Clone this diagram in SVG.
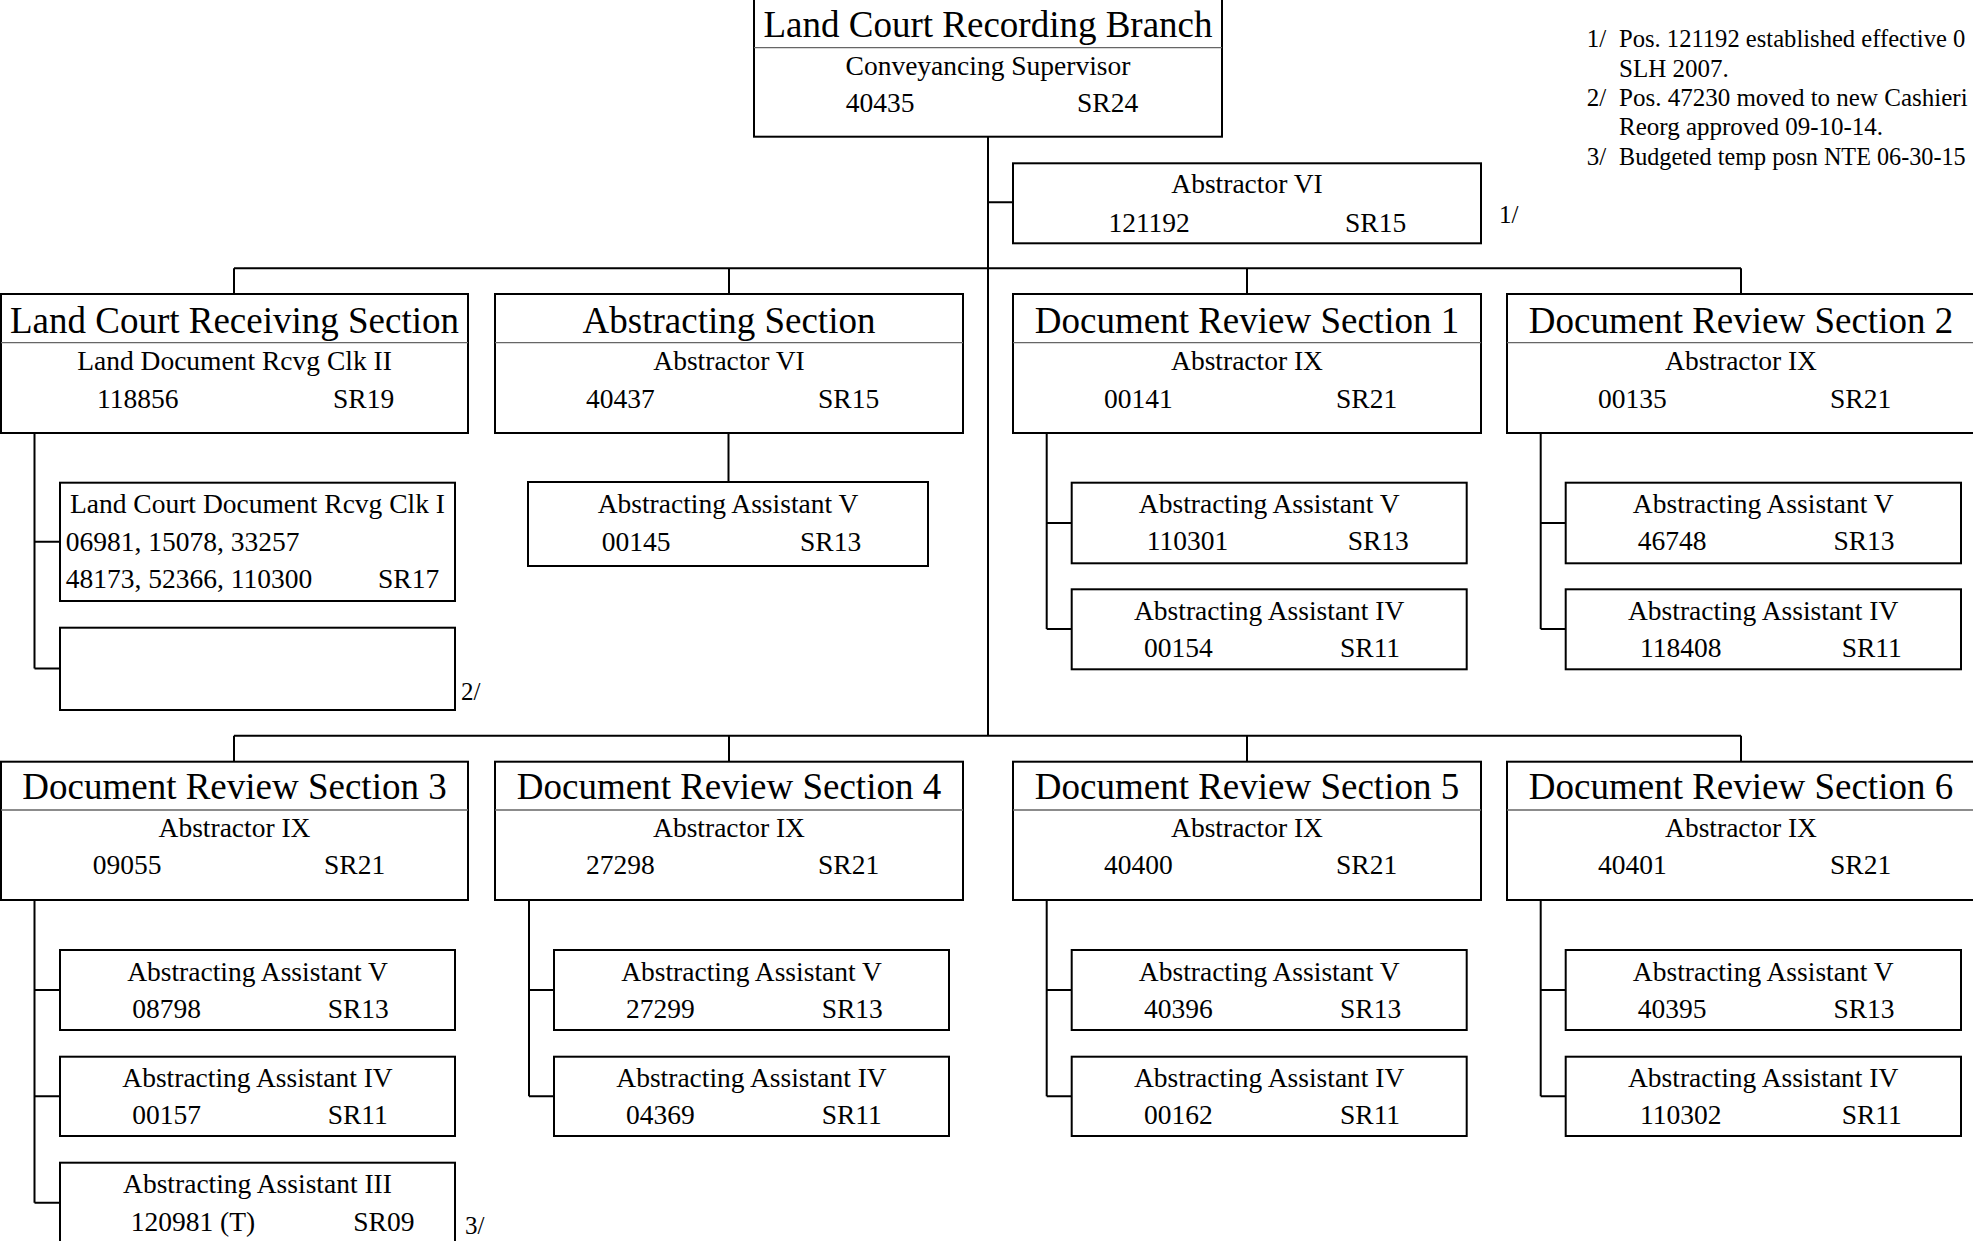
<svg xmlns="http://www.w3.org/2000/svg" width="1973" height="1241" viewBox="0 0 1973 1241">
<style>
text{font-family:"Liberation Serif","Times New Roman",serif;fill:#000}
.t{font-size:37px;text-anchor:middle}
.m{font-size:27.5px;text-anchor:middle}
.s{font-size:27.5px}
.n{font-size:25px}
.box{fill:#fff;stroke:#000;stroke-width:2}
.sep{stroke:#666;stroke-width:1.3}
.c{fill:none;stroke:#000;stroke-width:2}
</style>
<rect width="1973" height="1241" fill="#fff"/>
<g id="connectors">
<path class="c" d="M988 136V736M988 202.3H1013"/>
<path class="c" d="M234 268.3H1741M234 268.3V294M729 268.3V294M1247 268.3V294M1741 268.3V294"/>
<path class="c" d="M234 735.7H1741M234 735.7V762M729 735.7V762M1247 735.7V762M1741 735.7V762"/>
<path class="c" d="M34.5 433V668.5M34.5 541.8H60M34.5 668.5H60"/>
<path class="c" d="M728.5 433V482"/>
<path class="c" d="M1046.7 433V629M1046.7 523H1071.7M1046.7 629H1071.7"/>
<path class="c" d="M1540.7 433V629M1540.7 523H1565.7M1540.7 629H1565.7"/>
<path class="c" d="M34.5 900V1202.7M34.5 990H60M34.5 1096.3H60M34.5 1202.7H60"/>
<path class="c" d="M529 900V1096.3M529 990H554M529 1096.3H554"/>
<path class="c" d="M1046.7 900V1096.3M1046.7 990H1071.7M1046.7 1096.3H1071.7"/>
<path class="c" d="M1540.7 900V1096.3M1540.7 990H1565.7M1540.7 1096.3H1565.7"/>
</g>
<g id="branch" transform="translate(754,-1.5)">
<rect class="box" width="468" height="138.2"/>
<line class="sep" x1="0" y1="49.2" x2="468" y2="49.2"/>
<text class="t" x="234" y="38.5">Land Court Recording Branch</text>
<text class="m" x="234" y="76.5">Conveyancing Supervisor</text>
<text class="s" x="91.7" y="113.2">40435</text>
<text class="s" x="323" y="113.2">SR24</text>
</g>
<g id="abstractor-vi-121192" transform="translate(1013,163.3)">
<rect class="box" width="468" height="80"/>
<text class="m" x="234" y="30">Abstractor VI</text>
<text class="s" x="95.4" y="68.4">121192</text>
<text class="s" x="332" y="68.4">SR15</text>
</g>
<text class="n" x="1499" y="223">1/</text>
<g id="notes">
<text class="n" x="1586.7" y="47">1/</text>
<text class="n" x="1619" y="47" style="font-size:24.6px">Pos. 121192 established effective 0</text>
<text class="n" x="1619" y="77">SLH 2007.</text>
<text class="n" x="1586.7" y="106">2/</text>
<text class="n" x="1619" y="106">Pos. 47230 moved to new Cashieri</text>
<text class="n" x="1619" y="135">Reorg approved 09-10-14.</text>
<text class="n" x="1586.7" y="165">3/</text>
<text class="n" x="1619" y="165" style="font-size:24.2px">Budgeted temp posn NTE 06-30-15</text>
</g>
<g id="receiving-section" transform="translate(1,294)">
<rect class="box" width="467" height="139"/>
<line class="sep" x1="0" y1="48.7" x2="467" y2="48.7"/>
<text class="t" x="233.5" y="38.7">Land Court Receiving Section</text>
<text class="m" x="233.5" y="76">Land Document Rcvg Clk II</text>
<text class="s" x="96" y="113.7">118856</text>
<text class="s" x="332" y="113.7">SR19</text>
</g>
<g id="abstracting-section" transform="translate(495,294)">
<rect class="box" width="468" height="139"/>
<line class="sep" x1="0" y1="48.7" x2="468" y2="48.7"/>
<text class="t" x="234" y="38.7">Abstracting Section</text>
<text class="m" x="234" y="76">Abstractor VI</text>
<text class="s" x="91" y="113.7">40437</text>
<text class="s" x="323" y="113.7">SR15</text>
</g>
<g id="drs1" transform="translate(1013,294)">
<rect class="box" width="468" height="139"/>
<line class="sep" x1="0" y1="48.7" x2="468" y2="48.7"/>
<text class="t" x="234" y="38.7">Document Review Section 1</text>
<text class="m" x="234" y="76">Abstractor IX</text>
<text class="s" x="91" y="113.7">00141</text>
<text class="s" x="323" y="113.7">SR21</text>
</g>
<g id="drs2" transform="translate(1507,294)">
<rect class="box" width="468" height="139"/>
<line class="sep" x1="0" y1="48.7" x2="468" y2="48.7"/>
<text class="t" x="234" y="38.7">Document Review Section 2</text>
<text class="m" x="234" y="76">Abstractor IX</text>
<text class="s" x="91" y="113.7">00135</text>
<text class="s" x="323" y="113.7">SR21</text>
</g>
<g id="rcvg-clk-i" transform="translate(60,482.7)">
<rect class="box" width="395" height="118.3"/>
<text class="m" x="197.5" y="30.5">Land Court Document Rcvg Clk I</text>
<text class="s" x="5.7" y="68">06981, 15078, 33257</text>
<text class="s" x="5.7" y="105.3">48173, 52366, 110300</text>
<text class="s" x="318" y="105.3">SR17</text>
</g>
<g id="empty-position" transform="translate(60,627.7)">
<rect class="box" width="395" height="82.3"/>
</g>
<text class="n" x="461" y="700">2/</text>
<g id="aa-v-00145" transform="translate(528,482)">
<rect class="box" width="400" height="84"/>
<text class="m" x="200" y="31.3">Abstracting Assistant V</text>
<text class="s" x="73.7" y="68.7">00145</text>
<text class="s" x="272" y="68.7">SR13</text>
</g>
<g id="aa-v-110301" transform="translate(1071.7,482.7)">
<rect class="box" width="395" height="80.6"/>
<text class="m" x="197.5" y="30.5">Abstracting Assistant V</text>
<text class="s" x="75" y="67.5">110301</text>
<text class="s" x="276" y="67.5">SR13</text>
</g>
<g id="aa-iv-00154" transform="translate(1071.7,589.3)">
<rect class="box" width="395" height="80"/>
<text class="m" x="197.5" y="30.5">Abstracting Assistant IV</text>
<text class="s" x="72.3" y="67.5">00154</text>
<text class="s" x="268.3" y="67.5">SR11</text>
</g>
<g id="aa-v-46748" transform="translate(1565.7,482.7)">
<rect class="box" width="395.3" height="80.6"/>
<text class="m" x="197.5" y="30.5">Abstracting Assistant V</text>
<text class="s" x="72" y="67.5">46748</text>
<text class="s" x="267.7" y="67.5">SR13</text>
</g>
<g id="aa-iv-118408" transform="translate(1565.7,589.3)">
<rect class="box" width="395.3" height="80"/>
<text class="m" x="197.5" y="30.5">Abstracting Assistant IV</text>
<text class="s" x="74.3" y="67.5">118408</text>
<text class="s" x="276" y="67.5">SR11</text>
</g>
<g id="drs3" transform="translate(1,761.7)">
<rect class="box" width="467" height="138.3"/>
<line class="sep" x1="0" y1="48.3" x2="467" y2="48.3"/>
<text class="t" x="233.5" y="37.6">Document Review Section 3</text>
<text class="m" x="233.5" y="75">Abstractor IX</text>
<text class="s" x="91.7" y="112.6">09055</text>
<text class="s" x="323" y="112.6">SR21</text>
</g>
<g id="drs4" transform="translate(495,761.7)">
<rect class="box" width="468" height="138.3"/>
<line class="sep" x1="0" y1="48.3" x2="468" y2="48.3"/>
<text class="t" x="234" y="37.6">Document Review Section 4</text>
<text class="m" x="234" y="75">Abstractor IX</text>
<text class="s" x="91" y="112.6">27298</text>
<text class="s" x="323" y="112.6">SR21</text>
</g>
<g id="drs5" transform="translate(1013,761.7)">
<rect class="box" width="468" height="138.3"/>
<line class="sep" x1="0" y1="48.3" x2="468" y2="48.3"/>
<text class="t" x="234" y="37.6">Document Review Section 5</text>
<text class="m" x="234" y="75">Abstractor IX</text>
<text class="s" x="91" y="112.6">40400</text>
<text class="s" x="323" y="112.6">SR21</text>
</g>
<g id="drs6" transform="translate(1507,761.7)">
<rect class="box" width="468" height="138.3"/>
<line class="sep" x1="0" y1="48.3" x2="468" y2="48.3"/>
<text class="t" x="234" y="37.6">Document Review Section 6</text>
<text class="m" x="234" y="75">Abstractor IX</text>
<text class="s" x="91" y="112.6">40401</text>
<text class="s" x="323" y="112.6">SR21</text>
</g>
<g id="aa-v-08798" transform="translate(60,950)">
<rect class="box" width="395" height="80"/>
<text class="m" x="197.5" y="30.5">Abstracting Assistant V</text>
<text class="s" x="72.3" y="67.5">08798</text>
<text class="s" x="267.7" y="67.5">SR13</text>
</g>
<g id="aa-iv-00157" transform="translate(60,1056.7)">
<rect class="box" width="395" height="79.3"/>
<text class="m" x="197.5" y="30.5">Abstracting Assistant IV</text>
<text class="s" x="72.3" y="67.5">00157</text>
<text class="s" x="267.7" y="67.5">SR11</text>
</g>
<g id="aa-iii-120981" transform="translate(60,1162.7)">
<rect class="box" width="395" height="80"/>
<text class="m" x="197.5" y="30.5">Abstracting Assistant III</text>
<text class="s" x="70.7" y="68.3">120981 (T)</text>
<text class="s" x="293.3" y="68.3">SR09</text>
</g>
<text class="n" x="465" y="1234">3/</text>
<g id="aa-v-27299" transform="translate(554,950)">
<rect class="box" width="395" height="80"/>
<text class="m" x="197.5" y="30.5">Abstracting Assistant V</text>
<text class="s" x="72" y="67.5">27299</text>
<text class="s" x="267.7" y="67.5">SR13</text>
</g>
<g id="aa-iv-04369" transform="translate(554,1056.7)">
<rect class="box" width="395" height="79.3"/>
<text class="m" x="197.5" y="30.5">Abstracting Assistant IV</text>
<text class="s" x="72" y="67.5">04369</text>
<text class="s" x="267.7" y="67.5">SR11</text>
</g>
<g id="aa-v-40396" transform="translate(1071.7,950)">
<rect class="box" width="395" height="80"/>
<text class="m" x="197.5" y="30.5">Abstracting Assistant V</text>
<text class="s" x="72.3" y="67.5">40396</text>
<text class="s" x="268.3" y="67.5">SR13</text>
</g>
<g id="aa-iv-00162" transform="translate(1071.7,1056.7)">
<rect class="box" width="395" height="79.3"/>
<text class="m" x="197.5" y="30.5">Abstracting Assistant IV</text>
<text class="s" x="72.3" y="67.5">00162</text>
<text class="s" x="268.3" y="67.5">SR11</text>
</g>
<g id="aa-v-40395" transform="translate(1565.7,950)">
<rect class="box" width="395.3" height="80"/>
<text class="m" x="197.5" y="30.5">Abstracting Assistant V</text>
<text class="s" x="72" y="67.5">40395</text>
<text class="s" x="267.7" y="67.5">SR13</text>
</g>
<g id="aa-iv-110302" transform="translate(1565.7,1056.7)">
<rect class="box" width="395.3" height="79.3"/>
<text class="m" x="197.5" y="30.5">Abstracting Assistant IV</text>
<text class="s" x="74.3" y="67.5">110302</text>
<text class="s" x="276" y="67.5">SR11</text>
</g>
</svg>
